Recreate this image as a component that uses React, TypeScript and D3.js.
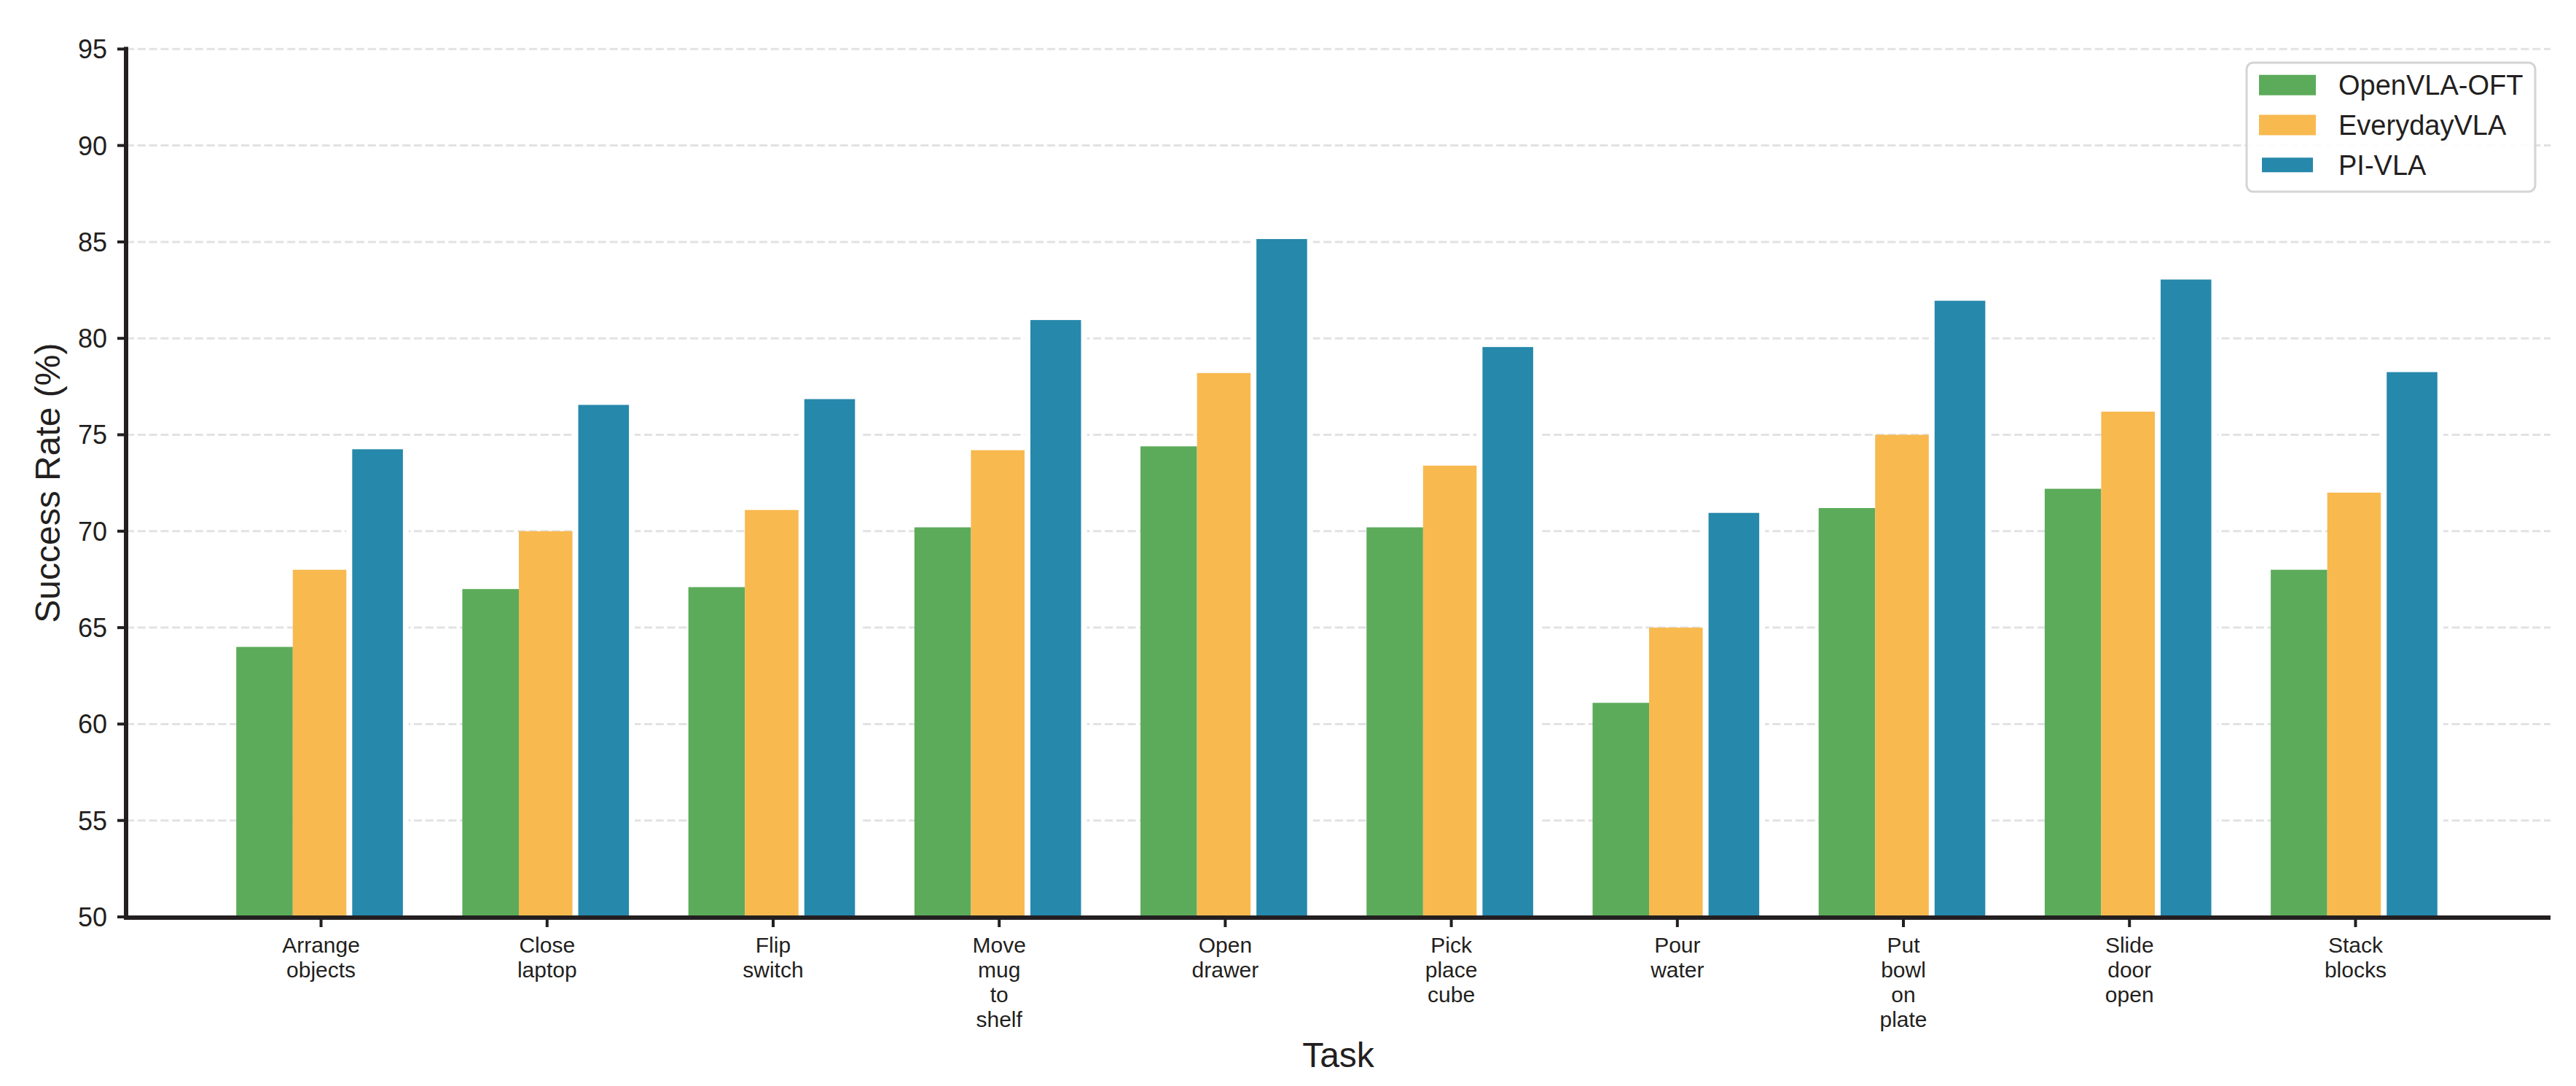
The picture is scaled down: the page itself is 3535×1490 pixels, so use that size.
import * as d3 from "d3";

const tasks = [
  ["Arrange", "objects"],
  ["Close", "laptop"],
  ["Flip", "switch"],
  ["Move", "mug", "to", "shelf"],
  ["Open", "drawer"],
  ["Pick", "place", "cube"],
  ["Pour", "water"],
  ["Put", "bowl", "on", "plate"],
  ["Slide", "door", "open"],
  ["Stack", "blocks"],
];

const seriesNames = ["OpenVLA-OFT", "EverydayVLA", "PI-VLA"];
const openvlaOft = [64.0, 67.0, 67.1, 70.2, 74.4, 70.2, 61.1, 71.2, 72.2, 68.0];
const everydayVla = [68.0, 70.0, 71.1, 74.2, 78.2, 73.4, 65.0, 75.0, 76.2, 72.0];
const piVla = [74.4, 76.7, 77.0, 81.1, 85.3, 79.7, 71.1, 82.1, 83.2, 78.4];
const yTicks = [50, 55, 60, 65, 70, 75, 80, 85, 90, 95];

const colors = ["#5cab5a", "#f8b94f", "#2688ab"];
const ink = "#231f20";
const font = "'Liberation Sans', Arial, Helvetica, sans-serif";

const W = 3535;
const H = 1490;
const left = 173;
const right = 3500;
const top = 67.3;
const bottom = 1258;
const barW = 0.25;

export default function App() {
  const series = [openvlaOft, everydayVla, piVla];
  const x = d3.scaleLinear().domain([-0.8625, tasks.length - 1 + 0.8625]).range([left, right]);
  const y = d3.scaleLinear().domain([50, 95]).range([bottom, top]);
  const px = (u: number) => x(u) - x(0);

  return (
    <svg
      width={W}
      height={H}
      style={{ position: "absolute", left: 0, top: 0, background: "#fff" }}
      fontFamily={font}
    >
      <defs>
        <clipPath id="plot">
          <rect x={left} y={0} width={right - left} height={bottom} />
        </clipPath>
      </defs>
      <rect x={0} y={0} width={W} height={H} fill="#fff" />

      {/* grid */}
      {yTicks.slice(1).map((t) => (
        <line
          key={t}
          x1={left}
          x2={right}
          y1={y(t)}
          y2={y(t)}
          stroke="#e2e2e4"
          strokeWidth={3}
          strokeDasharray="11 4.8"
        />
      ))}

      {/* bars start at 0 like the source plot, clipped at the axes */}
      <g clipPath="url(#plot)">
        {series.map((vals, s) =>
          vals.map((v, i) => {
            const cx = i + (s - 1) * barW;
            const isPi = s === 2;
            return (
              <rect
                key={`${s}-${i}`}
                x={x(cx - barW / 2)}
                y={y(v)}
                width={px(barW)}
                height={y(0) - y(v)}
                fill={colors[s]}
                stroke={isPi ? "#fff" : "none"}
                strokeWidth={isPi ? 8 : 0}
              />
            );
          })
        )}
      </g>

      {/* axes */}
      <line x1={left} x2={left} y1={top - 3} y2={bottom + 3} stroke={ink} strokeWidth={6} />
      <line x1={left - 3} x2={right} y1={bottom + 1} y2={bottom + 1} stroke={ink} strokeWidth={6} />

      {yTicks.map((t) => (
        <g key={t}>
          <line x1={left - 12} x2={left} y1={y(t)} y2={y(t)} stroke={ink} strokeWidth={4} />
          <text
            x={left - 26}
            y={y(t)}
            dy="0.36em"
            textAnchor="end"
            fontSize={36}
            fill={ink}
          >
            {t}
          </text>
        </g>
      ))}

      {tasks.map((lines, i) => (
        <g key={i}>
          <line x1={x(i)} x2={x(i)} y1={bottom} y2={bottom + 14} stroke={ink} strokeWidth={4} />
          <text x={x(i)} y={bottom + 49} textAnchor="middle" fontSize={30} fill={ink}>
            {lines.map((ln, k) => (
              <tspan key={k} x={x(i)} dy={k === 0 ? 0 : 34}>
                {ln}
              </tspan>
            ))}
          </text>
        </g>
      ))}

      <text x={(left + right) / 2} y={1464} textAnchor="middle" fontSize={48} fill={ink}>
        Task
      </text>
      <text
        transform={`translate(82, ${(top + bottom) / 2}) rotate(-90)`}
        textAnchor="middle"
        fontSize={48}
        fill={ink}
      >
        Success Rate (%)
      </text>

      {/* legend */}
      <g>
        <rect
          x={3083}
          y={86}
          width={396}
          height={177}
          rx={9}
          fill="#fff"
          fillOpacity={0.9}
          stroke="#d4d4d4"
          strokeWidth={3}
        />
        {seriesNames.map((name, s) => {
          const cy = 116.7 + s * 54.8;
          return (
            <g key={name}>
              <rect
                x={3100}
                y={cy - 14}
                width={78}
                height={28}
                fill={colors[s]}
                stroke={s === 2 ? "#fff" : "none"}
                strokeWidth={s === 2 ? 8 : 0}
              />
              <text x={3209} y={cy + 13.6} fontSize={38} fill={ink}>
                {name}
              </text>
            </g>
          );
        })}
      </g>
    </svg>
  );
}
